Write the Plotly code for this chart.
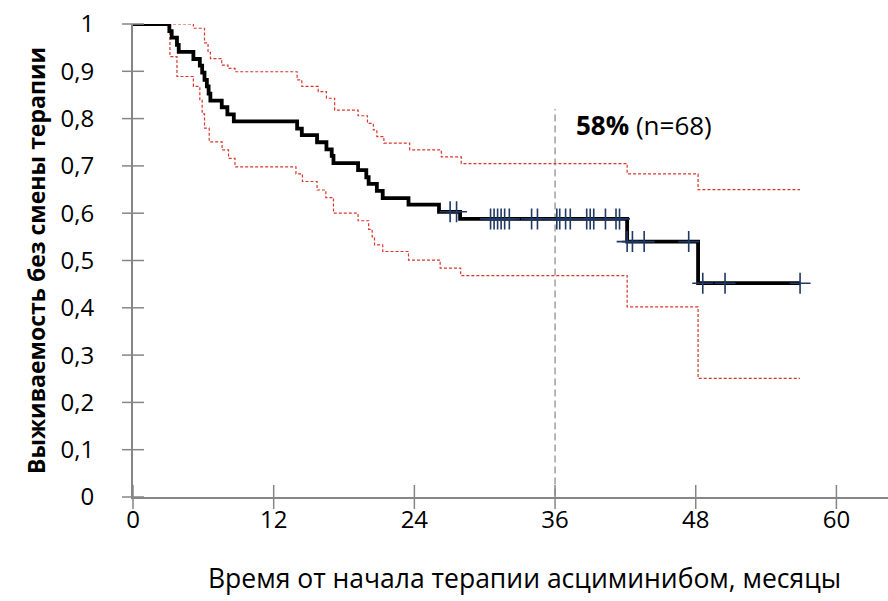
import plotly.graph_objects as go

# Kaplan-Meier estimate (months, survival) - step function
km_t = [0, 3.1, 3.3, 3.75, 3.9, 5.15, 5.7, 5.9, 6.1, 6.3, 6.45, 6.6, 7.57, 8.05, 8.6,
        14.0, 14.4, 15.7, 16.5, 16.95, 17.1, 19.2, 19.9, 20.1, 20.8, 21.3, 23.5, 26.1,
        27.9, 42.15, 48.2, 56.9]
km_s = [1.0, 0.985, 0.971, 0.956, 0.941, 0.926, 0.912, 0.897, 0.882, 0.868, 0.853, 0.838,
        0.824, 0.809, 0.794, 0.779, 0.765, 0.750, 0.735, 0.721, 0.706, 0.691, 0.676,
        0.662, 0.647, 0.632, 0.618, 0.603, 0.588, 0.540, 0.452, 0.452]

# 95% confidence limits
upper_t = [0, 5.15, 6.1, 6.4, 6.6, 7.57, 8.1, 8.7, 14.0, 14.4, 15.8, 16.5, 17.2, 19.2,
           20.0, 20.5, 20.8, 21.4, 23.6, 26.3, 28.0, 42.15, 48.2, 56.9]
upper_s = [1.0, 0.991, 0.960, 0.940, 0.927, 0.913, 0.906, 0.899, 0.882, 0.868, 0.857,
           0.843, 0.818, 0.806, 0.790, 0.776, 0.762, 0.748, 0.734, 0.719, 0.705, 0.683,
           0.650, 0.650]
lower_t = [0, 3.15, 3.75, 5.15, 5.7, 5.9, 6.1, 6.5, 7.6, 8.15, 8.7, 13.9, 14.45, 15.7,
           16.45, 17.1, 19.2, 20.1, 20.4, 20.6, 21.3, 23.5, 26.2, 27.95, 42.15, 48.2, 56.9]
lower_s = [1.0, 0.931, 0.889, 0.868, 0.840, 0.810, 0.780, 0.751, 0.734, 0.716, 0.698,
           0.683, 0.667, 0.649, 0.633, 0.600, 0.584, 0.566, 0.550, 0.533, 0.519, 0.501,
           0.484, 0.468, 0.402, 0.251, 0.251]

# censored observations
censor_t = [27.05, 27.6, 30.5, 30.8, 31.1, 31.4, 31.7, 32.1, 34.0, 34.5, 36.15, 36.4,
            36.9, 37.3, 38.7, 39.0, 39.3, 40.3, 41.2, 41.5, 42.15, 42.6, 43.6, 47.4,
            48.6, 50.5, 56.9]
censor_s = [0.603, 0.603, 0.588, 0.588, 0.588, 0.588, 0.588, 0.588, 0.588, 0.588, 0.588,
            0.588, 0.588, 0.588, 0.588, 0.588, 0.588, 0.588, 0.588, 0.588, 0.540, 0.540,
            0.540, 0.540, 0.452, 0.452, 0.452]

x_ticks = [0, 12, 24, 36, 48, 60]
y_ticks = [0, 0.1, 0.2, 0.3, 0.4, 0.5, 0.6, 0.7, 0.8, 0.9, 1.0]
y_labels = ["0", "0,1", "0,2", "0,3", "0,4", "0,5", "0,6", "0,7", "0,8", "0,9", "1"]

landmark_month = 36
landmark_text = "<b>58%</b> (n=68)"
x_title = "Время от начала терапии асциминибом, месяцы"
y_title = "<b>Выживаемость без смены терапии</b>"

X_MAX = 64.4
FONT = "Open Sans"
AXIS = "#868686"
CI_COLOR = "#d9362b"

fig = go.Figure()

for t, s in ((upper_t, upper_s), (lower_t, lower_s)):
    fig.add_trace(go.Scatter(
        x=t, y=s, mode="lines", line=dict(shape="hv", color=CI_COLOR, width=1.2, dash="3px,2px"),
        hoverinfo="skip", showlegend=False, cliponaxis=False))

fig.add_trace(go.Scatter(
    x=km_t, y=km_s, mode="lines", line=dict(shape="hv", color="#000000", width=3.8),
    showlegend=False, cliponaxis=False))

fig.add_trace(go.Scatter(
    x=censor_t, y=censor_s, mode="markers",
    marker=dict(symbol="cross-thin", size=15, line=dict(color="#1f3864", width=1.6)),
    showlegend=False, cliponaxis=False))

# landmark line at 36 months
fig.add_shape(type="line", x0=landmark_month, x1=landmark_month, y0=-0.02, y1=0.82,
              xref="x", yref="y", line=dict(color="#6e6e6e", width=1, dash="7px,4px"),
              layer="below")

fig.add_annotation(x=37.6, y=0.786, text=landmark_text, showarrow=False,
                   xanchor="left", yanchor="middle",
                   font=dict(family=FONT, size=26, color="#000000"))

# x-axis title, set slightly right of the plot-area centre
fig.add_annotation(x=0.518, y=-0.172, xref="paper", yref="paper", text=x_title,
                   showarrow=False, xanchor="center", yanchor="middle",
                   font=dict(family=FONT, size=26.5, color="#000000"))

# cross-style tick marks straddling both axes
for v in y_ticks:
    fig.add_shape(type="line", xref="paper", yref="paper", x0=-11 / 755, x1=11 / 755,
                  y0=v, y1=v, line=dict(color=AXIS, width=1.5))
for v in x_ticks:
    fig.add_shape(type="line", xref="paper", yref="paper", x0=v / X_MAX, x1=v / X_MAX,
                  y0=-12 / 473, y1=12 / 473, line=dict(color=AXIS, width=1.5))

fig.update_layout(
    width=888, height=601,
    margin=dict(l=133, r=0, t=24, b=104),
    paper_bgcolor="white", plot_bgcolor="white",
    font=dict(family=FONT, color="#000000"),
    xaxis=dict(
        range=[0, X_MAX], tickvals=x_ticks, ticks="", showline=True, linecolor=AXIS,
        linewidth=2, showgrid=False, zeroline=False,
        tickfont=dict(size=24, color="#000000"), ticklabelstandoff=0,
    ),
    yaxis=dict(
        range=[0, 1], tickvals=y_ticks, ticktext=y_labels, ticks="", showline=True,
        linecolor=AXIS, linewidth=2, showgrid=False, zeroline=False,
        tickfont=dict(size=24, color="#000000"), ticklabelstandoff=32,
        title=dict(text=y_title, font=dict(size=23, color="#000000"), standoff=8),
    ),
)

fig.write_html("out.html")
